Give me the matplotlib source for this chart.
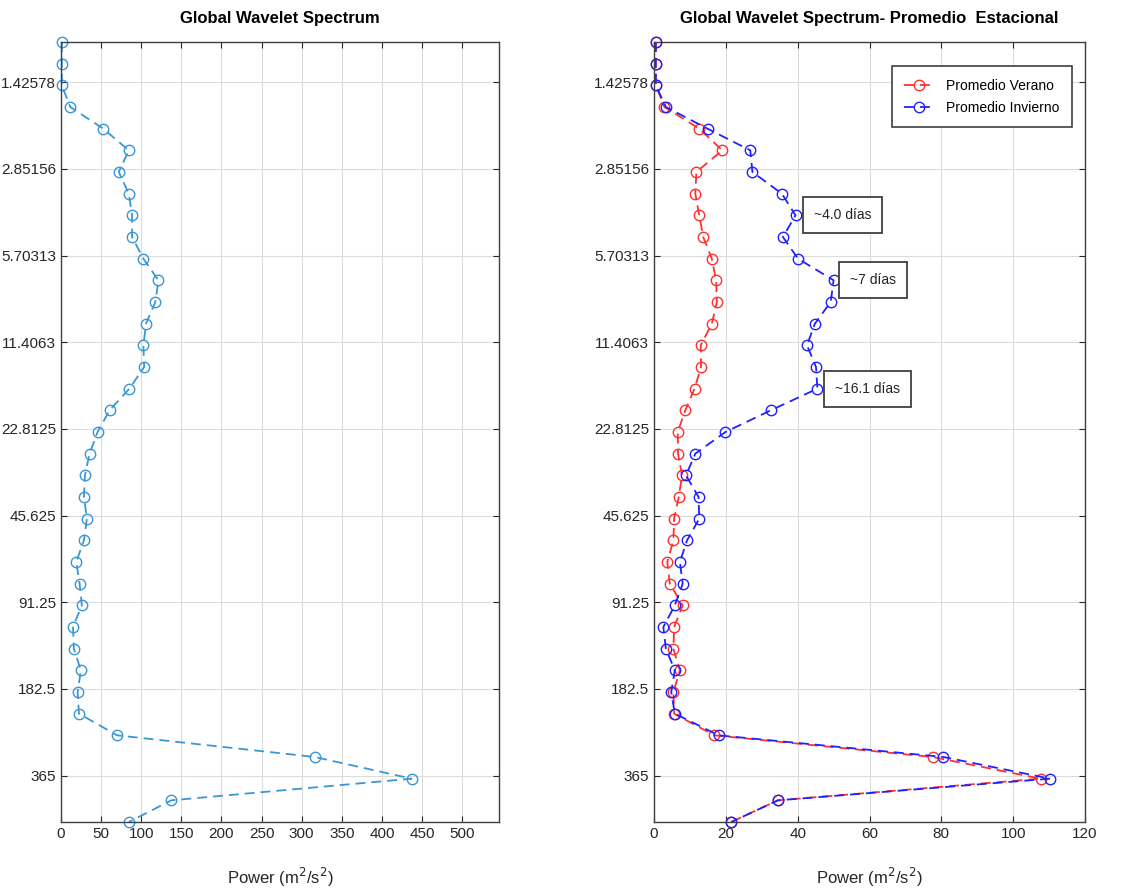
import numpy as np
import matplotlib
matplotlib.use("Agg")
from matplotlib import pyplot as plt

plt.rcParams['font.family'] = ['Liberation Sans Narrow', 'Liberation Sans', 'DejaVu Sans']

# wavelet periods (days), 4 voices per octave
period = [1.0330, 1.2285, 1.4609, 1.7373, 2.0660, 2.4569, 2.9218, 3.4746,
          4.1320, 4.9138, 5.8436, 6.9492, 8.2640, 9.8276, 11.687, 13.898,
          16.528, 19.655, 23.374, 27.797, 33.056, 39.310, 46.748, 55.593,
          66.112, 78.621, 93.497, 111.19, 132.22, 157.24, 186.99, 222.37,
          264.45, 314.48, 373.99, 444.75, 528.90]

global_ws = [1, 1, 1, 11.6, 52.6, 84.5, 72, 84.5, 88.6, 88.6, 102.7, 121.4,
             117.6, 106, 102.7, 103.6, 85.3, 60.5, 45.6, 35.6, 29.8, 28.6, 32.3, 28.6,
             19, 23.2, 26, 15, 16, 24.8, 20.7, 22.4, 70, 316.5, 437, 137.5, 84.5]

verano = [0.5, 0.5, 0.5, 2.9, 12.6, 19, 11.8, 11.5, 12.6, 13.7, 16.1, 17.3,
          17.5, 16.1, 13, 13.1, 11.3, 8.7, 6.6, 6.7, 7.8, 6.9, 5.6, 5.4,
          3.7, 4.4, 8, 5.6, 5.4, 7.2, 5.4, 5.6, 16.8, 77.6, 107.7, 34.5, 21.5]

invierno = [0.5, 0.5, 0.5, 3.3, 14.9, 26.8, 27.4, 35.6, 39.4, 35.9, 40.1, 50,
            49.2, 44.8, 42.6, 45.1, 45.5, 32.5, 19.9, 11.5, 8.9, 12.4, 12.6, 9.2,
            7.2, 8, 5.8, 2.6, 3.3, 5.8, 4.8, 5.8, 18, 80.6, 110.3, 34.5, 21.5]

ytick_vals = [1.42578, 2.85156, 5.70313, 11.4063, 22.8125, 45.625, 91.25, 182.5, 365]
ytick_labels = ['1.42578', '2.85156', '5.70313', '11.4063', '22.8125', '45.625', '91.25', '182.5', '365']

annot_text = ['~4.0 días', '~7 días', '~16.1 días']
annot_period = [4.1320, 6.9492, 16.528]
annot_x = [44.5, 54.5, 50.5]

W, H = 1130, 894
fig = plt.figure(figsize=(W / 100, H / 100), dpi=100)
ax1 = fig.add_axes([61 / W, 1 - 822 / H, (499 - 61) / W, (822 - 42) / H])
ax2 = fig.add_axes([654 / W, 1 - 822 / H, (1085 - 654) / W, (822 - 42) / H])

tick_col = '#262626'
dash = (5.5, 3.3)


def style(ax, xmax, xticks):
    ax.set_yscale('log', base=2)
    ax.set_ylim(period[-1], period[0])
    ax.set_yticks(ytick_vals)
    ax.set_yticklabels(ytick_labels)
    ax.yaxis.set_minor_locator(matplotlib.ticker.NullLocator())
    ax.set_xlim(0, xmax)
    ax.set_xticks(xticks)
    ax.grid(True, color='#dcdcdc', linewidth=0.8)
    ax.set_axisbelow(True)
    ax.tick_params(axis='both', colors=tick_col, labelsize=11, direction='in',
                   length=4, top=True, right=True)
    for sp in ax.spines.values():
        sp.set_color('#404040')
        sp.set_linewidth(1.0)
    ax.set_xlabel('Power (m$^2$/s$^2$)', fontsize=12, color=tick_col, labelpad=18)


ax1.plot(global_ws, period, '--o', color='#3a97d4', markerfacecolor='none',
         markersize=7.5, linewidth=1.3, dashes=dash, clip_on=False)
style(ax1, 546, np.arange(0, 501, 50))
ax1.set_title('Global Wavelet Spectrum', fontsize=12, fontweight='bold', pad=14)

ax2.plot(verano, period, '--o', color='#ff3030', markerfacecolor='none',
         markersize=7.5, linewidth=1.3, dashes=dash, clip_on=False,
         label='Promedio Verano')
ax2.plot(invierno, period, '--o', color='#2020ff', markerfacecolor='none',
         markersize=7.5, linewidth=1.3, dashes=dash, clip_on=False,
         label='Promedio Invierno')
style(ax2, 120, np.arange(0, 121, 20))
ax2.set_title('Global Wavelet Spectrum- Promedio  Estacional', fontsize=12,
              fontweight='bold', pad=14)
leg = ax2.legend(loc='upper right', bbox_to_anchor=(0.985, 0.978), fontsize=10,
                 fancybox=False, edgecolor='#404040', framealpha=1,
                 handlelength=2.2, borderpad=0.9, labelspacing=0.6)
leg.get_frame().set_linewidth(1.2)

for t, p, x in zip(annot_text, annot_period, annot_x):
    ax2.text(x, p, t, fontsize=10, va='center', ha='left', color='#222222',
             bbox=dict(boxstyle='square,pad=0.8', facecolor='white',
                       edgecolor='#404040', linewidth=1.3))

fig.savefig('out.png', dpi=100)
